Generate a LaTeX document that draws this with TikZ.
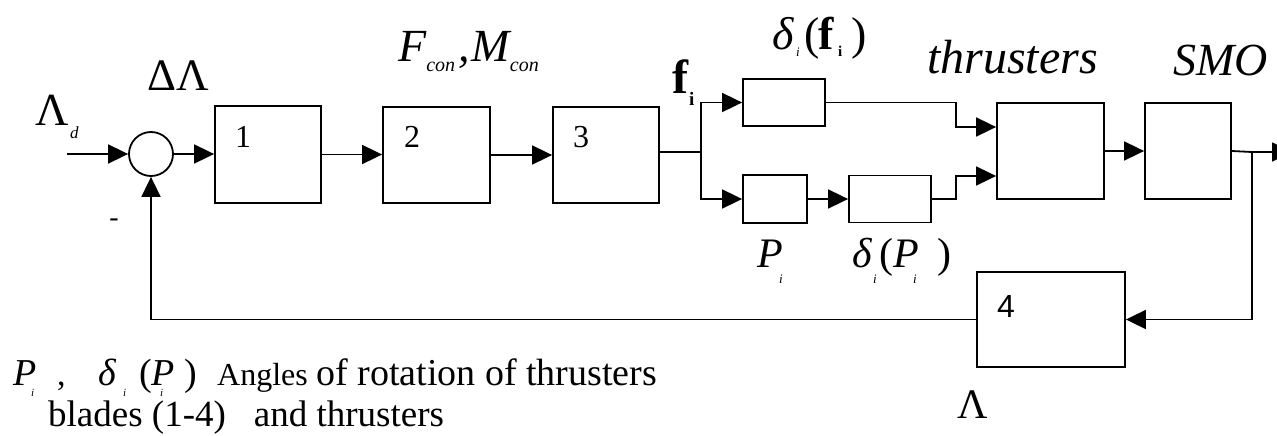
\documentclass[tikz,border=0pt]{standalone}
\usepackage{fontspec}
\setmainfont{Liberation Serif}
\newfontfamily\sansf{Liberation Sans}
\usetikzlibrary{arrows.meta,calc}
\newcommand\fsz[1]{\fontsize{#1}{#1}\selectfont}
\newcommand\lsub[3]{\raisebox{-#2pt}{\fsz{#1}#3}}
\begin{document}
\begin{tikzpicture}[x=1pt,y=-1pt,
  ln/.style={line width=1.8pt},
  arr/.style={-{Triangle[length=20pt,width=19pt]}},
  blk/.style={draw,line width=1.8pt,inner sep=0pt},
  lbl/.style={inner sep=0pt,anchor=base west},
  num/.style={inner sep=0pt,font=\fsz{32}}]
\fill[white] (0,0) rectangle (1277,436);
\useasboundingbox (0,0) rectangle (1277,436);
% blocks
\node[draw,circle,line width=1.8pt,minimum size=44pt,inner sep=0pt] (sum) at (151,154) {};
\node[blk,minimum width=106pt,minimum height=97pt] (b1) at (268,154.5) {};
\node[blk,minimum width=107pt,minimum height=96pt] (b2) at (436.5,155) {};
\node[blk,minimum width=106pt,minimum height=96pt] (b3) at (606,155) {};
\node[blk,minimum width=82pt,minimum height=47pt] (bf) at (784,102.5) {};
\node[blk,minimum width=64pt,minimum height=48pt] (bP) at (775,199) {};
\node[blk,minimum width=82pt,minimum height=47pt] (bdP) at (890,199) {};
\node[blk,minimum width=107pt,minimum height=96pt] (bT) at (1050.5,151) {};
\node[blk,minimum width=86pt,minimum height=96pt] (bS) at (1188,151) {};
\node[blk,minimum width=148pt,minimum height=95pt] (b4) at (1051,319.5) {};
% numbers
\node[num] (n1) at (243,137) {1};
\node[num] (n2) at (412,137) {2};
\node[num] (n3) at (581,137) {3};
\node[num,font=\sansf\fsz{32}] (n4) at (1006,306) {4};
% coordinates
\coordinate (in) at (67,154);
\coordinate (sp) at (701,152);
\coordinate (j1) at (956,127);
\coordinate (j2) at (956,176);
\coordinate (fb) at (1252,152);
\coordinate (out) at (1292,152);
% connectors
\draw[ln,arr] (in) -- (sum.west);
\draw[ln,arr] (sum.east) -- (sum.east -| b1.west);
\draw[ln,arr] (b1.east) -- (b1.east -| b2.west);
\draw[ln,arr] (b2.east) -- (b2.east -| b3.west);
\draw[ln] (b3.east |- sp) -- (sp);
\draw[ln,arr] (sp) |- (bf.west);
\draw[ln,arr] (sp) |- (bP.west);
\draw[ln,arr] (bP.east) -- (bP.east -| bdP.west);
\draw[ln,arr] (bf.east) -| (j1) -- (bT.west |- j1);
\draw[ln,arr] (bdP.east) -| (j2) -- (bT.west |- j2);
\draw[ln,arr] (bT.east) -- (bS.west);
\draw[ln] (bS.east) -- (fb);
\draw[ln,arr] (fb) -- (out);
\draw[ln,arr] (fb) |- (b4.east);
\draw[ln,arr] (b4.west) -| (sum.south);
% labels
\node[lbl] (ld) at (35,125) {\fsz{46}Λ};
\node[lbl] (lds) at (70,138) {\fsz{17}\itshape d};
\node[lbl] (dl) at (147,91) {\fsz{45}ΔΛ};
\node[lbl] (fm) at (398,62) {\fsz{46}\itshape F\lsub{20}{10}{con}\hspace{3pt},\hspace{2pt}M\lsub{20}{10}{con}};
\node[lbl] (fi) at (672,93) {\fsz{48}\bfseries f};
\node[lbl] (fis) at (689,105) {\fsz{19}\bfseries i};
% delta_i(f_i)
\node[lbl] (d1) at (772,50) {\fsz{46}\itshape δ};
\node[lbl] (d1s) at (796,57) {\fsz{13}\itshape i};
\node[lbl] (d1o) at (804,50) {\fsz{46}(};
\node[lbl] (d1f) at (818,50) {\fsz{46}\bfseries f};
\node[lbl] (d1fs) at (838,57) {\fsz{15}\bfseries i};
\node[lbl] (d1c) at (851,50) {\fsz{46})};
\node[lbl] (thl) at (927,74) {\fsz{48}\itshape thrusters};
\node[lbl] (smol) at (1173,75) {\fsz{46}\itshape SMO};
% P_i
\node[lbl] (pl) at (757,267) {\fsz{42}\itshape P};
\node[lbl] (pls) at (779,283) {\fsz{13}\itshape i};
% delta_i(P_i)
\node[lbl] (d2) at (852,267) {\fsz{42}\itshape δ};
\node[lbl] (d2s) at (873,283) {\fsz{13}\itshape i};
\node[lbl] (d2o) at (879,267) {\fsz{42}(};
\node[lbl] (d2p) at (893,267) {\fsz{42}\itshape P};
\node[lbl] (d2ps) at (913,283) {\fsz{13}\itshape i};
\node[lbl] (d2c) at (937,267) {\fsz{42})};
\node[lbl] (lam) at (957,418) {\fsz{42}Λ};
\node[inner sep=0pt] (minus) at (114,223) {\fsz{28}-};
% bottom text
\node[lbl] (bp1) at (13,385) {\fsz{38}\itshape P};
\node[lbl] (bs1) at (31,396) {\fsz{11}\itshape i};
\node[lbl] (bcm) at (57,385) {\fsz{34},};
\node[lbl] (bdl) at (98,385) {\fsz{38}\itshape δ};
\node[lbl] (bs2) at (123,396) {\fsz{11}\itshape i};
\node[lbl] (bop) at (139,385) {\fsz{38}(};
\node[lbl] (bp2) at (151,385) {\fsz{38}\itshape P};
\node[lbl] (bs3) at (160,396) {\fsz{11}\itshape i};
\node[lbl] (bcp) at (184,385) {\fsz{38})};
\node[lbl] (bang) at (217,385) {\fsz{32}Angles};
\node[lbl] (brot) at (316,385) {\fsz{38}of rotation of thrusters};
\node[lbl] (bl2) at (48,426) {\fsz{37}blades (1-4)\hspace{28pt}and thrusters};
\end{tikzpicture}
\end{document}
